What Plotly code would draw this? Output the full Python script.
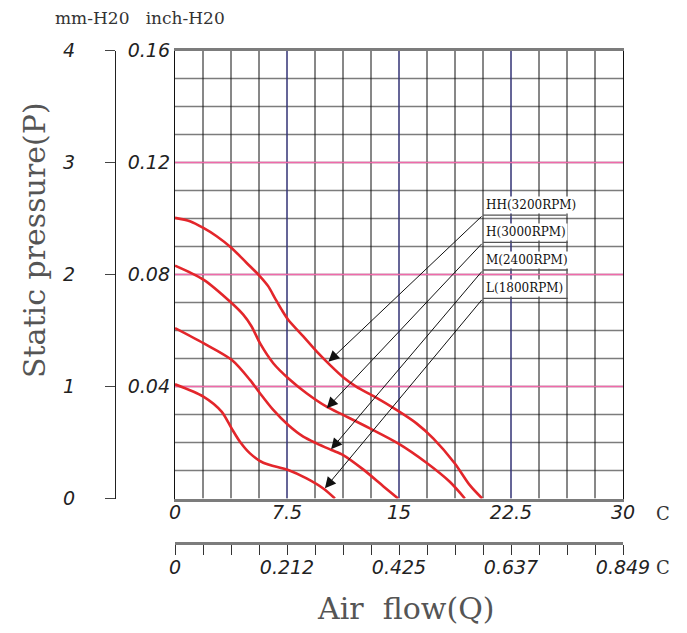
import numpy as np
import plotly.graph_objects as go

# ---- data (air flow Q in CFM, static pressure P in mm-H2O) ----
HH_Q = [0, 1.0, 1.9, 2.79, 3.79, 4.80, 5.69, 6.25, 6.69, 7.14, 7.58, 8.59, 9.48, 10.37, 11.26, 12.16, 13.27, 14.94, 16.17, 17.29, 18.74, 19.74, 20.57]
HH_P = [2.506, 2.476, 2.416, 2.342, 2.237, 2.103, 1.984, 1.894, 1.79, 1.686, 1.596, 1.447, 1.313, 1.193, 1.083, 0.996, 0.916, 0.782, 0.671, 0.537, 0.313, 0.119, 0.0]

H_Q = [0, 1.90, 3.79, 4.57, 5.13, 5.69, 6.58, 7.58, 8.81, 10.15, 11.26, 13.05, 14.94, 16.84, 18.40, 19.41]
H_P = [2.079, 1.954, 1.745, 1.641, 1.536, 1.387, 1.208, 1.074, 0.940, 0.820, 0.746, 0.626, 0.492, 0.319, 0.149, 0.0]

M_Q = [0, 1.90, 3.79, 5.02, 5.69, 6.58, 7.58, 8.59, 9.48, 10.48, 11.26, 12.60, 13.94, 14.94]
M_P = [1.521, 1.387, 1.238, 1.059, 0.940, 0.791, 0.656, 0.552, 0.492, 0.433, 0.388, 0.260, 0.110, 0.0]

L_Q = [0, 1.90, 3.12, 3.79, 4.35, 5.02, 5.91, 7.58, 8.81, 9.93, 10.71]
L_P = [1.020, 0.910, 0.776, 0.626, 0.507, 0.403, 0.319, 0.254, 0.179, 0.089, 0.0]

SERIES_Q = [HH_Q, H_Q, M_Q, L_Q]
SERIES_P = [HH_P, H_P, M_P, L_P]

LABEL_TEXT = ["HH(3200RPM)", "H(3000RPM)", "M(2400RPM)", "L(1800RPM)"]
LABEL_Q0 = [20.63, 20.63, 20.63, 20.63]
LABEL_Q1 = [26.2, 26.3, 26.3, 26.3]
LABEL_P = [2.531, 2.287, 2.040, 1.787]
TIP_Q = [10.27, 10.16, 10.45, 10.04]
TIP_P = [1.221, 0.805, 0.439, 0.091]

X_TICKS = [0, 7.5, 15, 22.5, 30]
X_LABELS = ["0", "7.5", "15", "22.5", "30"]
X2_LABELS = ["0", "0.212", "0.425", "0.637", "0.849"]
MM_TICKS = [0, 1, 2, 3, 4]
MM_LABELS = ["0", "1", "2", "3", "4"]
INCH_TICKS = [0.04, 0.08, 0.12, 0.16]
INCH_LABELS = ["0.04", "0.08", "0.12", "0.16"]

# ---- styling ----
OFF = 8                      # page body margin
W, H = 687 - OFF, 633 - OFF
RED = "#e3262b"
PINK = "#f06aaa"
BLUE = "#4444a8"
GRAY = "#7c7c7c"
TICKFONT = dict(family="DejaVu Sans", size=19, color="#222", style="italic")
SERIF = "DejaVu Serif"


def px(x):
    return (x - OFF) / W


def py(y):
    return 1 - (y - OFF) / H


x_dom = [px(175), px(623)]
y_dom = [py(498.5), py(50.5)]
x_all = [round(v, 4) for v in np.arange(0, 30 + 1e-9, 1.875)]
x_text = [X_LABELS[X_TICKS.index(v)] if v in X_TICKS else "" for v in x_all]
x2_text = [X2_LABELS[X_TICKS.index(v)] if v in X_TICKS else "" for v in x_all]
y_all = [round(v, 4) for v in np.arange(0, 4 + 1e-9, 0.25)]

fig = go.Figure()

# grid lines (drawn below traces), coloured major lines on top of the plain ones
for v in y_all[1:-1]:
    fig.add_shape(type="line", xref="x", yref="y", x0=0, x1=30, y0=v, y1=v,
                  line=dict(color=GRAY, width=1.6), layer="below")
for v in x_all[1:-1]:
    fig.add_shape(type="line", xref="x", yref="y", x0=v, x1=v, y0=0, y1=4,
                  line=dict(color="#111", width=1), layer="below")
for v in X_TICKS[1:-1]:
    fig.add_shape(type="line", xref="x", yref="y", x0=v, x1=v, y0=0, y1=4,
                  line=dict(color=BLUE, width=1), layer="below")
for v in MM_TICKS[1:-1]:
    fig.add_shape(type="line", xref="x", yref="y", x0=0, x1=30, y0=v, y1=v,
                  line=dict(color=PINK, width=1.6), layer="below")

for q, p in zip(SERIES_Q, SERIES_P):
    fig.add_trace(go.Scatter(x=q, y=p, mode="lines", line=dict(color=RED, width=2.6, shape="spline", smoothing=0.8),
                             showlegend=False, hoverinfo="skip"))
for q0, q1, p in zip(LABEL_Q0, LABEL_Q1, LABEL_P):
    fig.add_trace(go.Scatter(x=[q0, q1], y=[p, p], mode="lines", line=dict(color="#555", width=1.3),
                             showlegend=False, hoverinfo="skip"))
# dummy traces so the extra axes are drawn
fig.add_trace(go.Scatter(x=[None], y=[None], xaxis="x2", yaxis="y", showlegend=False))
fig.add_trace(go.Scatter(x=[None], y=[None], xaxis="x", yaxis="y2", showlegend=False))
fig.add_trace(go.Scatter(x=[None], y=[None], xaxis="x", yaxis="y3", showlegend=False))

fig.update_layout(
    width=W, height=H, autosize=False,
    margin=dict(l=0, r=0, t=0, b=0),
    paper_bgcolor="white", plot_bgcolor="rgba(0,0,0,0)",
    xaxis=dict(domain=x_dom, range=[0, 30], tickmode="array", tickvals=x_all, ticktext=x_text,
               ticks="", tickfont=TICKFONT, ticklabelstandoff=-5, automargin=False, showgrid=False,
               showline=True, mirror=True, linecolor=GRAY, linewidth=2.5, zeroline=False, anchor="y"),
    xaxis2=dict(overlaying="x", anchor="free", position=py(543), side="bottom", range=[0, 30],
                tickmode="array", tickvals=x_all, ticktext=x2_text, ticks="outside", ticklen=10,
                tickcolor="#333", tickwidth=1.3, tickfont=TICKFONT, ticklabelstandoff=-4, automargin=False,
                showgrid=False, showline=True, linecolor=GRAY, linewidth=2.5, zeroline=False),
    yaxis=dict(domain=y_dom, range=[0, 4], tickmode="array", tickvals=y_all, showticklabels=False, ticks="",
               showgrid=False, automargin=False,
               showline=True, mirror=True, linecolor="#111", linewidth=1.3, zeroline=False, anchor="x"),
    yaxis2=dict(overlaying="y", anchor="free", position=px(115), side="left", range=[0, 4],
                tickmode="array", tickvals=MM_TICKS, ticktext=MM_LABELS, ticks="outside", ticklen=10,
                tickcolor="#444", tickwidth=1.3, tickfont=TICKFONT, ticklabelstandoff=26, automargin=False,
                showgrid=False, showline=True, linecolor="#222", linewidth=1.3, zeroline=False),
    yaxis3=dict(overlaying="y", anchor="x", side="left", range=[0, 0.16], automargin=False,
                tickmode="array", tickvals=INCH_TICKS, ticktext=INCH_LABELS, ticks="",
                tickfont=TICKFONT, ticklabelstandoff=4, showgrid=False, showline=False, zeroline=False),
)

for q0, p0, qt, pt in zip(LABEL_Q0, LABEL_P, TIP_Q, TIP_P):
    fig.add_annotation(x=qt, y=pt, ax=q0, ay=p0, xref="x", yref="y", axref="x", ayref="y",
                       text="", showarrow=True, arrowhead=2, arrowsize=2.2, arrowwidth=1,
                       arrowcolor="#111", standoff=0, startstandoff=0)
for txt, q0, p0 in zip(LABEL_TEXT, LABEL_Q0, LABEL_P):
    fig.add_annotation(x=q0, y=p0, xref="x", yref="y", xanchor="left", yanchor="bottom",
                       text=txt, showarrow=False, bgcolor="white", borderpad=1, xshift=1, yshift=1,
                       font=dict(family=SERIF, size=12, color="#111"))

fig.add_annotation(x=px(35), y=py(240), xref="paper", yref="paper", text="Static pressure(P)",
                   xanchor="center", yanchor="middle",
                   textangle=-90, showarrow=False, font=dict(family=SERIF, size=30, color="#555"))
fig.add_annotation(x=px(405), y=py(608), xref="paper", yref="paper", text="Air  flow(Q)",
                   xanchor="center", yanchor="middle",
                   showarrow=False, font=dict(family=SERIF, size=30, color="#555"))
fig.add_annotation(x=px(53), y=py(18), xref="paper", yref="paper", xanchor="left", yanchor="middle",
                   text="mm-H20   inch-H20", showarrow=False, font=dict(family=SERIF, size=17, color="#333"))
for yy in [513, 567]:
    fig.add_annotation(x=px(663), y=py(yy), xref="paper", yref="paper", text="C",
                       xanchor="center", yanchor="middle",
                       showarrow=False, font=dict(family=SERIF, size=18, color="#333"))

fig.write_html("out.html")
